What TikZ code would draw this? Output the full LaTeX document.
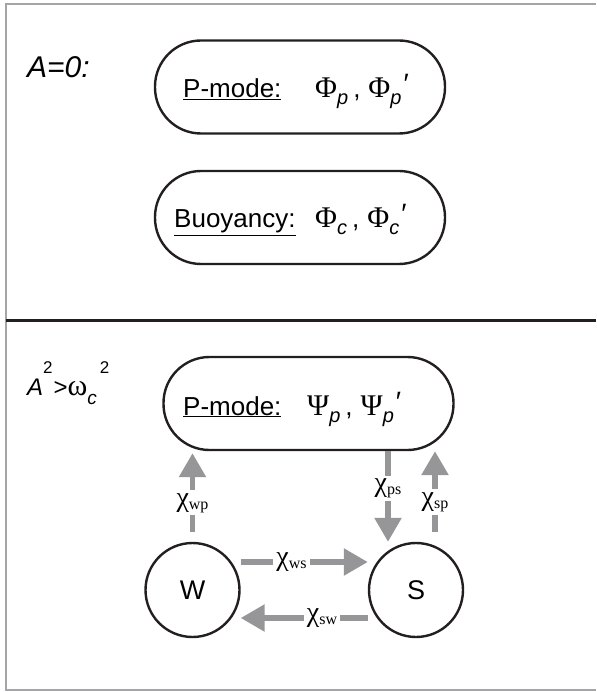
\documentclass[tikz,border=0pt]{standalone}
\usepackage{fontspec}
\setmainfont{Liberation Sans}
\newfontfamily\grk{Liberation Serif}
\usetikzlibrary{arrows.meta, calc}
\definecolor{flowgray}{RGB}{150,150,152}
\definecolor{framegray}{RGB}{165,165,167}
\definecolor{ink}{RGB}{35,31,32}
\newcommand\fs[1]{\fontsize{#1}{#1}\selectfont}
\newcommand\lowsub[1]{\raisebox{-7pt}{\fs{20}\itshape #1}}
\newcommand\bigsym[1]{{\grk\fs{30}#1}}
\newcommand\chisub[1]{{\grk\fs{28}χ}\raisebox{-3pt}{\grk\fs{16}#1}}
\newcommand\hiprime{\raisebox{4pt}{\fs{28}\char"2032}}

\begin{document}
\begin{tikzpicture}[x=1pt,y=-1pt]
  \tikzset{
    pill/.style={
      draw=ink,
      line width=2.4pt,
      rounded corners=46pt,
      minimum width=290pt,
      minimum height=93pt
    },
    blob/.style={
      draw=ink,
      circle,
      line width=2.4pt,
      minimum size=94pt,
      inner sep=0pt,
      font=\fs{27}
    },
    txt/.style={
      anchor=base west,
      inner sep=0pt,
      font=\fs{26}
    },
    flow/.style={
      draw=flowgray,
      line width=5.5pt,
      -{Triangle[length=24pt,width=26pt]}
    },
    tag/.style={
      fill=white,
      inner xsep=3pt,
      inner ysep=3pt
    }
  }
  \useasboundingbox (0,0) rectangle (596,692);

  % Frame and divider
  \draw[framegray, line width=2.5pt] (596,4) -- (6,4) -- (6,690) -- (596,690);
  \draw[ink, line width=3pt] (6,320) -- (596,320);

  % Upper panel: A=0
  \node[anchor=base west, inner sep=0pt, font=\fs{30}\itshape] (caseA) at (27,78) {A=0:};
  \node[pill] (modeA) at (300,87) {};
  \node[txt] (pmA) at (183,98) {\underline{P-mode:}};
  \node[txt] (phiA) at (315,98) {\bigsym{Φ}\lowsub{p}\kern5pt,\kern8pt\bigsym{Φ}\lowsub{p}\kern2pt\hiprime};
  \node[pill] (buoy) at (300,217.5) {};
  \node[txt] (buA) at (174,228) {\underline{Buoyancy:}};
  \node[txt] (phiC) at (315,228) {\bigsym{Φ}\lowsub{c}\kern5pt,\kern8pt\bigsym{Φ}\lowsub{c}\kern2pt\hiprime};

  % Lower panel: A^2 > omega_c^2
  \node[anchor=base west, inner sep=0pt, font=\fs{24}] (caseB) at (27,395)
    {\textit{A}\raisebox{22pt}{\fs{17}2}\kern1pt>{\grk\fs{30}ω}\raisebox{-9pt}{\fs{19}\itshape c}\kern3pt\raisebox{22pt}{\fs{17}2}};
  \node[pill] (modeB) at (308.5,403.5) {};
  \node[txt] (pmB) at (183,415) {\underline{P-mode:}};
  \node[txt] (psiB) at (307,415) {\bigsym{Ψ}\lowsub{p}\kern5pt,\kern8pt\bigsym{Ψ}\lowsub{p}\kern2pt\hiprime};

  \node[blob] (W) at (192.5,590) {W};
  \node[blob] (S) at (416,590) {S};

  % Couplings
  \coordinate (ps) at ([xshift=-28pt]S.north);
  \coordinate (sp) at ([xshift=19pt]S.north);
  \draw[flow, shorten <=10pt, shorten >=2pt] (W.north) -- node[tag, pos=.43] {\chisub{wp}} (W.north |- modeB.south);
  \draw[flow] (ps |- modeB.south) -- node[tag, pos=.41] {\chisub{ps}} (ps);
  \draw[flow, shorten <=10pt] (sp) -- node[tag, pos=.44] {\chisub{sp}} (sp |- modeB.south);
  \draw[flow] ([yshift=28pt]W.east) -- node[tag, pos=.40] {\chisub{ws}} ([yshift=28pt]S.west);
  \draw[flow] ([yshift=-28pt]S.west) -- node[tag, pos=.36] {\chisub{sw}} ([yshift=-28pt]W.east);
\end{tikzpicture}
\end{document}
